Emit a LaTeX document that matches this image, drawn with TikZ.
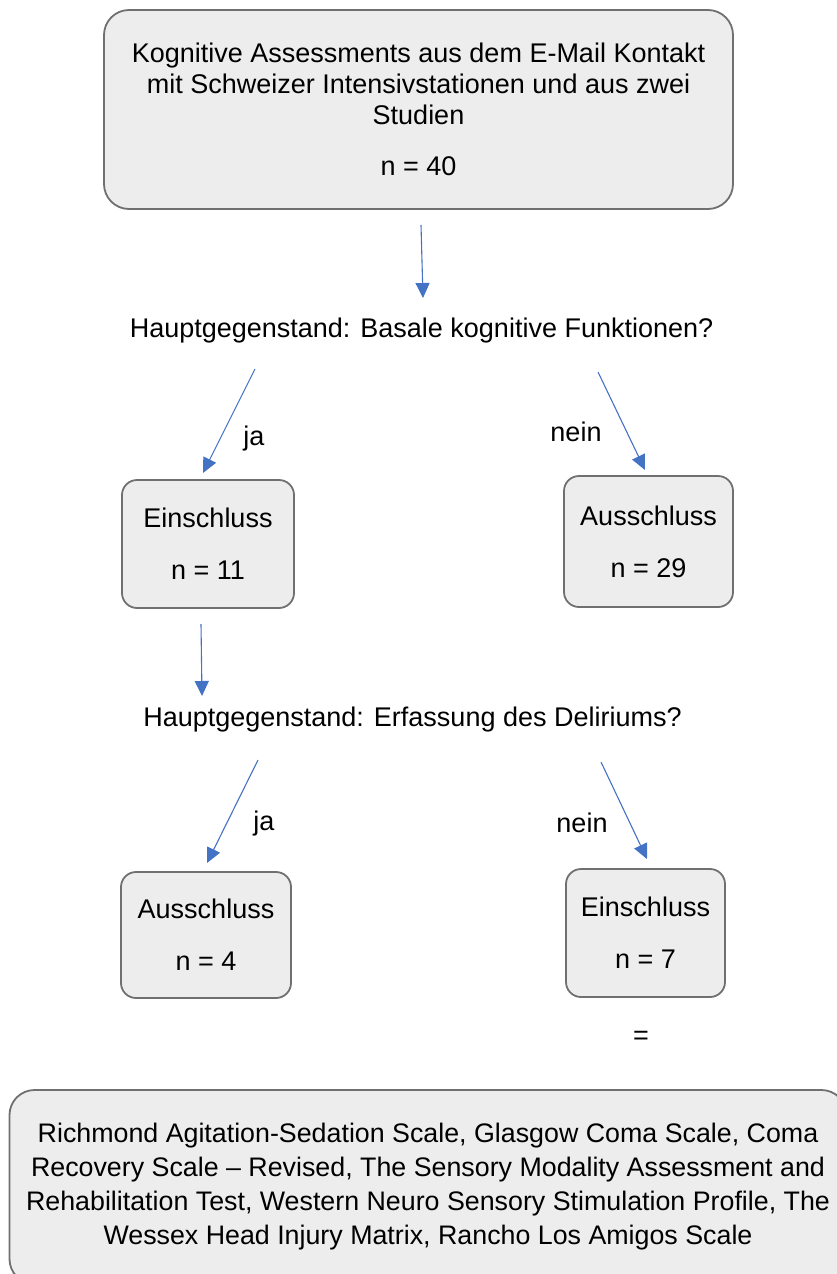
\documentclass[tikz,border=0pt]{standalone}
\usepackage{fontspec}
\setmainfont{Liberation Sans}
\usetikzlibrary{arrows.meta}
\definecolor{boxfill}{HTML}{EDEDED}
\definecolor{boxline}{HTML}{707070}
\definecolor{arrowblue}{HTML}{4472C4}
\begin{document}
\begin{tikzpicture}[x=1pt,y=-1pt,
  every node/.style={font=\fontsize{27pt}{31pt}\selectfont, inner sep=0pt},
  bigbox/.style={draw=boxline, fill=boxfill, line width=1.8pt, rounded corners=25pt, align=center},
  smallbox/.style={draw=boxline, fill=boxfill, line width=1.8pt, rounded corners=15pt, align=center},
  flow/.style={draw=arrowblue, line width=1.1pt, -{Triangle[length=15pt,width=14pt]}},
  plain/.style={anchor=base, align=center}
]
\useasboundingbox (0,0) rectangle (837,1274);

% top box
\node[bigbox, minimum width=629pt, minimum height=199pt] (top) at (418.5,109.5)
  {Kognitive Assessments aus dem E-Mail Kontakt\\mit Schweizer Intensivstationen und aus zwei\\Studien\\[20pt] n = 40};

\coordinate (a1s) at (421,225);
\coordinate (a1e) at (423,298);
\draw[flow] (a1s) -- (a1e);

\node[plain] (q1) at (421.5,337) {Hauptgegenstand: Basale kognitive Funktionen?};

\coordinate (j1s) at (255,369);
\coordinate (j1e) at (203,473);
\draw[flow] (j1s) -- (j1e);
\node[plain] (ja1) at (254,445) {ja};

\coordinate (n1s) at (598,372);
\coordinate (n1e) at (645,470);
\draw[flow] (n1s) -- (n1e);
\node[plain] (nein1) at (576,441) {nein};

\node[smallbox, minimum width=172pt, minimum height=128pt] (ein1) at (208,544)
  {\raisebox{-3pt}{Einschluss}\\[21pt] \raisebox{-3pt}{n = 11}};
\node[smallbox, minimum width=169pt, minimum height=131pt] (aus1) at (648.5,541.5)
  {\raisebox{-2pt}{Ausschluss}\\[21pt] \raisebox{-2pt}{n = 29}};

\coordinate (a2s) at (201,624);
\coordinate (a2e) at (202,696);
\draw[flow] (a2s) -- (a2e);

\node[plain] (q2) at (412.5,726) {Hauptgegenstand: Erfassung des Deliriums?};

\coordinate (j2s) at (258,760);
\coordinate (j2e) at (207,863);
\draw[flow] (j2s) -- (j2e);
\node[plain] (ja2) at (264,830) {ja};

\coordinate (n2s) at (601,762);
\coordinate (n2e) at (647,859);
\draw[flow] (n2s) -- (n2e);
\node[plain] (nein2) at (582,832) {nein};

\node[smallbox, minimum width=170pt, minimum height=126pt] (aus2) at (206,935)
  {\raisebox{-3pt}{Ausschluss}\\[21pt] \raisebox{-3pt}{n = 4}};
\node[smallbox, minimum width=159pt, minimum height=128pt] (ein2) at (645.5,933)
  {\raisebox{-2pt}{Einschluss}\\[21pt] \raisebox{-2pt}{n = 7}};

\node[plain] (eq) at (641,1044) {=};

\node[bigbox, minimum width=837pt, minimum height=194pt, font=\fontsize{26.8pt}{34pt}\selectfont] (bottom) at (428,1187)
  {Richmond Agitation-Sedation Scale, Glasgow Coma Scale, Coma\\Recovery Scale -- Revised, The Sensory Modality Assessment and\\Rehabilitation Test, Western Neuro Sensory Stimulation Profile, The\\Wessex Head Injury Matrix, Rancho Los Amigos Scale};
\end{tikzpicture}
\end{document}
